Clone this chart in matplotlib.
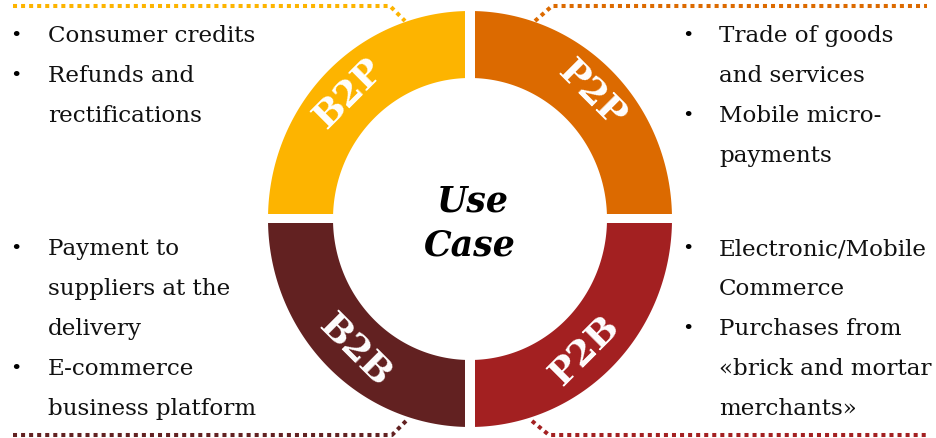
import numpy as np
import matplotlib
matplotlib.use("Agg")
import matplotlib.pyplot as plt
from matplotlib.patches import Polygon, Rectangle

# segments: label, colour, angle range (screen coords, y down)
labels = ["P2P", "B2P", "B2B", "P2B"]
colors = ["#DC6A00", "#FDB400", "#622121", "#A32021"]
theta0 = [-90, -180, 90, 0]
label_ang = [-45, -135, 132, 48]
label_rot = [-45, 45, -45, 45]

center_title = ["Use", "Case"]

left_top = ["Consumer credits", "Refunds and", "rectifications"]
left_top_b = [True, True, False]
right_top = ["Trade of goods", "and services", "Mobile micro-", "payments"]
right_top_b = [True, False, True, False]
left_bot = ["Payment to", "suppliers at the", "delivery", "E-commerce", "business platform"]
left_bot_b = [True, False, False, True, False]
right_bot = ["Electronic/Mobile", "Commerce", "Purchases from", "«brick and mortar", "merchants»"]
right_bot_b = [True, False, True, False, False]

W, H = 937, 438
cx, cy = 470, 219
rxo, ryo = 202, 208
rxi, ryi = 137, 141
gap = 10

fig = plt.figure(figsize=(W / 100, H / 100), dpi=100)
ax = fig.add_axes([0, 0, 1, 1])
ax.set_xlim(0, W)
ax.set_ylim(H, 0)
ax.axis("off")

for lab, col, t0, la, lr in zip(labels, colors, theta0, label_ang, label_rot):
    t = np.radians(np.linspace(t0, t0 + 90, 100))
    outer = np.column_stack([cx + rxo * np.cos(t), cy + ryo * np.sin(t)])
    inner = np.column_stack([cx + rxi * np.cos(t[::-1]), cy + ryi * np.sin(t[::-1])])
    ax.add_patch(Polygon(np.vstack([outer, inner]), closed=True, fc=col, ec="none", zorder=1))
    a = np.radians(la)
    rm = 0.5 * (rxo + rxi) + 2
    ax.text(cx + rm * np.cos(a), cy + rm * 1.03 * np.sin(a), lab, rotation=lr,
            ha="center", va="center", color="white", fontsize=26, fontweight="bold",
            family="DejaVu Serif", zorder=3)

# gaps between quadrants
ax.add_patch(Rectangle((cx - gap / 2, 0), gap, H, fc="white", ec="none", zorder=2))
ax.add_patch(Rectangle((0, cy - gap / 2), W, gap - 1, fc="white", ec="none", zorder=2))

ax.text(cx + 2, 201, center_title[0], ha="center", va="center", fontsize=25,
        fontweight="heavy", style="italic", family="DejaVu Serif", zorder=3)
ax.text(cx, 246, center_title[1], ha="center", va="center", fontsize=25,
        fontweight="heavy", style="italic", family="DejaVu Serif", zorder=3)

# dotted leader lines
dot = dict(lw=2.9, ls=(0, (1, 1)), dash_capstyle="butt", zorder=2)
ax.plot([13, 390, 405], [6, 6, 21], color=colors[1], **dot)
ax.plot([535, 552, 927], [21, 6, 6], color=colors[0], **dot)
ax.plot([13, 392, 408], [435, 435, 419], color=colors[2], **dot)
ax.plot([532, 549, 927], [421, 435, 435], color=colors[3], **dot)

def bullets(lines, flags, xb, xt, y0):
    for i, (s, b) in enumerate(zip(lines, flags)):
        y = y0 + i * 40
        if b:
            ax.text(xb, y, "•", ha="center", va="center", fontsize=14, family="DejaVu Serif")
        ax.text(xt, y, s, ha="left", va="center", fontsize=16.6, family="DejaVu Serif", color="#111111")

bullets(left_top, left_top_b, 16, 48, 36)
bullets(right_top, right_top_b, 688, 719, 36)
bullets(left_bot, left_bot_b, 16, 48, 249)
bullets(right_bot, right_bot_b, 688, 719, 249)

fig.savefig("out.png", dpi=100)
